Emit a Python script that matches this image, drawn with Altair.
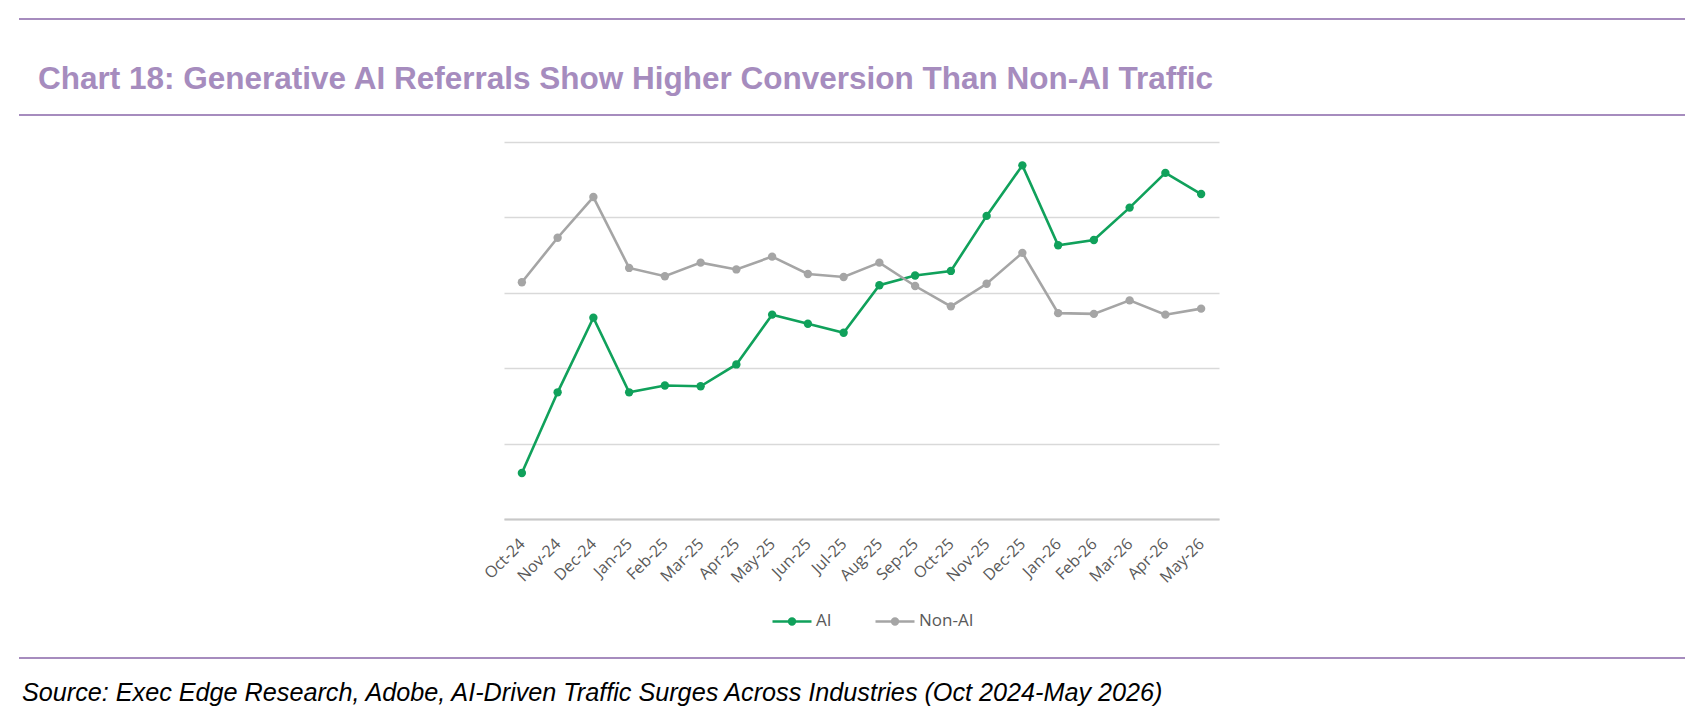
"""Recreate Chart 18: generative AI referrals vs non-AI traffic conversion, using Altair."""

import pandas as pd
import altair as alt


OUTPUT_HTML = "out.html"

MONTHS = [
    "Oct-24", "Nov-24", "Dec-24", "Jan-25", "Feb-25", "Mar-25", "Apr-25",
    "May-25", "Jun-25", "Jul-25", "Aug-25", "Sep-25", "Oct-25", "Nov-25",
    "Dec-25", "Jan-26", "Feb-26", "Mar-26", "Apr-26", "May-26",
]

# Values, in gridline units (the chart has no y labels)
AI_VALUES = [
    0.61, 1.68, 2.67, 1.68, 1.77, 1.76, 2.05, 2.71, 2.59, 2.47,
    3.10, 3.23, 3.29, 4.02, 4.69, 3.63, 3.70, 4.13, 4.59, 4.31,
]
NON_AI_VALUES = [
    3.14, 3.73, 4.27, 3.33, 3.22, 3.40, 3.31, 3.48, 3.25, 3.21,
    3.40, 3.09, 2.82, 3.12, 3.53, 2.73, 2.72, 2.90, 2.71, 2.79,
]

SERIES_NAMES = ["AI", "Non-AI"]
SERIES_COLORS = ["#10A15B", "#A5A5A5"]
GRID_VALUES = [0, 1, 2, 3, 4, 5]

TITLE_TEXT = "Chart 18: Generative AI Referrals Show Higher Conversion Than Non-AI Traffic"
SOURCE_TEXT = (
    "Source: Exec Edge Research, Adobe, AI-Driven Traffic Surges Across "
    "Industries (Oct 2024-May 2026)"
)

ACCENT = "#A68CBE"

# plot area size and where it sits in the page
PLOT_W = 715
PLOT_H = 377
PAD = {"left": 496, "top": 134, "right": 471, "bottom": 188}


def circle_path(r):
    return f"M{-r},0A{r},{r} 0 1,1 {r},0A{r},{r} 0 1,1 {-r},0"


def build_long_frame():
    """Stack both series into one long table for Altair."""
    records = []
    for name, values in zip(SERIES_NAMES, [AI_VALUES, NON_AI_VALUES]):
        for month, value in zip(MONTHS, values):
            records.append({"month": month, "value": value, "series": name})
    return pd.DataFrame(records)


def create_lines(df_long):
    """Line + point chart with a legend symbol drawn as a line with a dot."""
    # stroke-only legend symbols, so the dot is built from a few rings
    legend_symbol = "M-1,0L1,0" + "".join(circle_path(r) for r in [0.05, 0.1, 0.15])
    return (
        alt.Chart(df_long)
        .mark_line(
            strokeWidth=2.6,
            point=alt.OverlayMarkDef(filled=True, size=70, opacity=1),
        )
        .encode(
            x=alt.X(
                "month:O",
                sort=MONTHS,
                title=None,
                scale=alt.Scale(type="point", padding=0.5),
                axis=alt.Axis(
                    labelAngle=-45,
                    labelAlign="right",
                    labelBaseline="middle",
                    labelFont="Open Sans",
                    labelFontSize=16,
                    labelColor="#595959",
                    labelPadding=22,
                    ticks=False,
                    grid=False,
                    domainColor="#C8C8C8",
                    domainWidth=1.8,
                ),
            ),
            y=alt.Y(
                "value:Q",
                title=None,
                scale=alt.Scale(domain=[0, 5], nice=False, zero=True),
                axis=alt.Axis(
                    values=GRID_VALUES,
                    labels=False,
                    ticks=False,
                    domain=False,
                    grid=True,
                    gridColor="#D9D9D9",
                    gridWidth=1.3,
                ),
            ),
            color=alt.Color(
                "series:N",
                sort=SERIES_NAMES,
                scale=alt.Scale(domain=SERIES_NAMES, range=SERIES_COLORS),
                legend=alt.Legend(
                    title=None,
                    orient="none",
                    direction="horizontal",
                    legendX=267,
                    legendY=458,
                    symbolType=legend_symbol,
                    symbolSize=1521,
                    symbolStrokeWidth=2.6,
                    labelFont="Open Sans",
                    labelFontSize=17,
                    labelColor="#595959",
                    labelOffset=3,
                    columnPadding=38,
                    padding=0,
                ),
            ),
        )
    )


def create_decorations():
    """Title, source note and the purple divider rules."""
    one = pd.DataFrame({"k": [0]})
    base = alt.Chart(one)

    rules = []
    for y in [-123, -27, 516]:
        rules.append(
            base.mark_rule(color=ACCENT, strokeWidth=1.8).encode(
                x=alt.value(-485), x2=alt.value(1181), y=alt.value(y)
            )
        )

    title = base.mark_text(
        text=TITLE_TEXT,
        font="Liberation Sans",
        fontSize=31.5,
        fontWeight="bold",
        color=ACCENT,
        align="left",
        baseline="alphabetic",
    ).encode(x=alt.value(-466), y=alt.value(-53.5))

    source = base.mark_text(
        text=SOURCE_TEXT,
        font="Liberation Sans",
        fontSize=25.2,
        fontStyle="italic",
        color="#000000",
        align="left",
        baseline="alphabetic",
    ).encode(x=alt.value(-482), y=alt.value(559))

    return rules + [title, source]


def main():
    df_long = build_long_frame()
    print(f"{len(df_long)} points in {len(SERIES_NAMES)} series")

    chart = (
        alt.layer(create_lines(df_long), *create_decorations())
        .properties(
            width=PLOT_W,
            height=PLOT_H,
            autosize=alt.AutoSizeParams(type="none"),
            padding=PAD,
        )
        .configure_view(stroke=None)
    )

    chart.save(OUTPUT_HTML, embed_options={"renderer": "svg", "actions": False})
    print(f"Chart saved to {OUTPUT_HTML}")


if __name__ == "__main__":
    main()
